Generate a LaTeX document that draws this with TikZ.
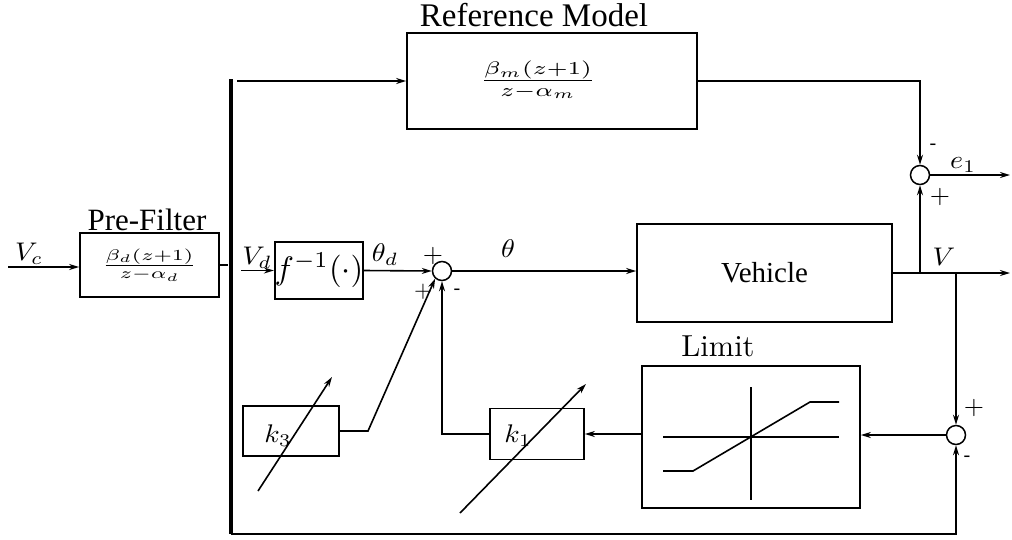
\RequirePackage{fix-cm}
\documentclass[tikz,border=0pt]{standalone}
\usepackage{fontspec}
\usepackage{graphicx}
\newfontfamily\tms{Liberation Serif}
\usetikzlibrary{arrows.meta}
\newcommand{\mth}[1]{\scalebox{2.8}[2.55]{\fontsize{10}{12}\selectfont$#1$}}
\newcommand{\tfr}[3]{\scalebox{#1}[#2]{\fontsize{10}{12}\selectfont$#3$}}
\begin{document}
\begin{tikzpicture}[x=1pt,y=-1pt,
  box/.style={draw, line width=1.7pt, inner sep=0pt},
  sumc/.style={draw, circle, line width=1.5pt, minimum size=19pt, inner sep=0pt},
  sig/.style={line width=1.6pt},
  arr/.style={sig, -{Stealth[length=10pt,width=6pt]}},
  lab/.style={inner sep=0pt},
  ttl/.style={inner sep=0pt, font=\fontsize{31}{36}\selectfont\tms},
  dsh/.style={inner sep=0pt, font=\fontsize{20}{24}\selectfont\tms},
]
\useasboundingbox (0,0) rectangle (1012,539);

% blocks
\node[box, minimum width=139pt, minimum height=64pt] (pf) at (149.5,265)
  {\tfr{3.0}{2.2}{\frac{\beta_d(z+1)}{z-\alpha_d}}};
\node[box, minimum width=290pt, minimum height=96pt] (ref) at (552,81) {};
\node[inner sep=0pt] (reftf) at (538,80)
  {\tfr{3.4}{2.6}{\frac{\beta_m(z+1)}{z-\alpha_m}}};
\node[box, minimum width=88pt, minimum height=57pt] (finv) at (319,270.5)
  {\tfr{3.25}{3.25}{f^{-1}(\cdot)}};
\node[box, minimum width=255pt, minimum height=98pt, font=\fontsize{29}{34}\selectfont\tms] (veh) at (764.5,273) {Vehicle};
\node[box, minimum width=218pt, minimum height=142pt] (lim) at (751,437) {};
\node[box, minimum width=94pt, minimum height=51pt] (k1) at (537,434) {};
\node[box, minimum width=96pt, minimum height=50pt] (k3) at (291,431) {};

% summing junctions
\node[sumc] (s1) at (442,271) {};
\node[sumc] (s2) at (920,175) {};
\node[sumc] (s3) at (956,435) {};

% titles and labels
\node[ttl] (lpf) at (147,220) {Pre-Filter};
\node[ttl, font=\fontsize{33}{38}\selectfont\tms] (lref) at (534,15) {Reference Model};
\node[inner sep=0pt] (llim) at (718,346) {\scalebox{3.04}{\fontsize{10}{12}\selectfont Limit}};
\node[lab] (lvc) at (29,254) {\mth{V_c}};
\node[lab] (lvd) at (257,258) {\mth{V_d}};
\node[lab] (lthd) at (385,255) {\mth{\theta_d}};
\node[lab] (lth) at (508,249) {\mth{\theta}};
\node[lab] (lv) at (944,257) {\mth{V}};
\node[lab] (le) at (963,165) {\mth{e_1}};
\node[lab] (lk3) at (278,436) {\mth{k_3}};
\node[lab] (lk1) at (518,436) {\mth{k_1}};

% signs
\node[lab] (p1) at (433,256) {\tfr{2.6}{2.6}{+}};
\node[lab] (p2) at (423,292) {\tfr{2.3}{2.3}{+}};
\node[dsh] (m1) at (457,292) {-};
\node[dsh] (m2) at (933,147) {-};
\node[lab] (p3) at (940,197) {\tfr{2.6}{2.6}{+}};
\node[lab] (p4) at (974,408) {\tfr{2.6}{2.6}{+}};
\node[dsh] (m3) at (967,459) {-};

% coordinates
\coordinate (vcs) at (8,267);
\coordinate (bt) at (231,79);
\coordinate (bb) at (231,534);
\coordinate (tl) at (237,81);
\coordinate (vds) at (241,270.5);
\coordinate (vout) at (1010,273);
\coordinate (j1) at (920,273);
\coordinate (j2) at (956,273);
\coordinate (eout) at (1010,175);
\coordinate (k3b) at (368,431);

% connectors
\draw[arr] (vcs) -- (vcs -| pf.west);
\draw[sig] (pf.east) -- ++(8,0);
\draw[line width=3.2pt] (bt) -- (bb);
\draw[arr] (tl) -- (ref.west);
\draw[arr] (vds) -- (finv.west);
\draw[arr] (finv.east) -- (s1.west);
\draw[arr] (s1.east) -- (s1.east -| veh.west);
\draw[arr] (veh.east) -- (vout);
\draw[arr] (j1) -- (s2.south);
\draw[arr] (ref.east) -| (s2.north);
\draw[arr] (s2.east) -- (eout);
\draw[arr] (j2) -- (s3.north);
\draw[arr] (s3.west) -- (s3.west -| lim.east);
\draw[arr] (k1.east -| lim.west) -- (k1.east);
\draw[arr] (k1.west) -| (s1.south);
\draw[arr] (k3.east) -- (k3b) -- (s1.228);
\draw[arr] (bb) -| (s3.south);

% adjustable gain arrows
\draw[arr] (258,491) -- (332,377);
\draw[arr] (460,513) -- (586,384);

% limiter characteristic
\draw[sig] (663,437) -- (839,437);
\draw[sig] (751,387) -- (751,500);
\draw[sig] (663,471) -- (693,471) -- (810,402) -- (839,402);
\end{tikzpicture}
\end{document}
